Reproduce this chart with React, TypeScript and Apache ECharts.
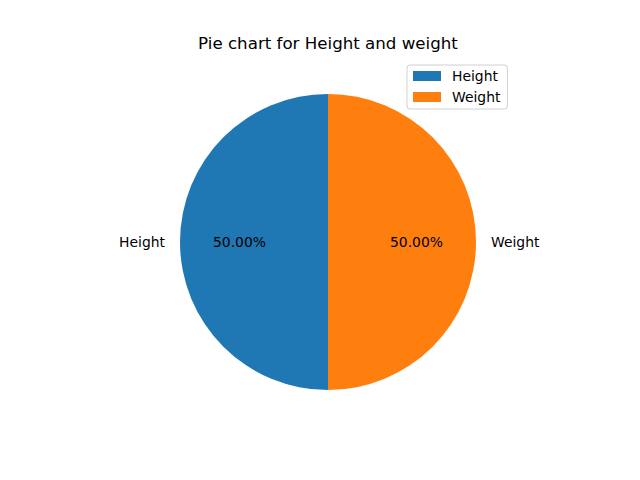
import React, { useEffect, useRef } from "react";
import * as echarts from "echarts";

const categories = ["Height", "Weight"];
const values = [50, 50];
const colors = ["#1f77b4", "#ff7f0e"];
const titleText = "Pie chart for Height and weight";

const FONT = "'DejaVu Sans', sans-serif";

export default function App() {
  const ref = useRef<HTMLDivElement>(null);
  useEffect(() => {
    if (!ref.current) return;
    const chart = echarts.init(ref.current, undefined, { renderer: "svg" });
    const data = categories.map((c, i) => ({
      name: c,
      value: values[i],
      itemStyle: { color: colors[i] },
    }));
    chart.setOption({
      animation: false,
      backgroundColor: "#ffffff",
      title: {
        text: titleText,
        left: 328,
        top: 35,
        textAlign: "center",
        padding: 0,
        textStyle: {
          fontFamily: FONT,
          fontSize: 16.67,
          fontWeight: "normal",
          color: "#000000",
          lineHeight: 17,
        },
      },
      legend: {
        orient: "vertical",
        left: 407,
        top: 65,
        padding: [4, 7, 5, 6],
        itemGap: 7,
        itemWidth: 28,
        itemHeight: 10,
        icon: "rect",
        borderColor: "#d0d0d0",
        borderWidth: 1,
        borderRadius: 3,
        backgroundColor: "rgba(255,255,255,0.8)",
        data: categories.map((c, i) => ({ name: c, itemStyle: { color: colors[i] } })),
        textStyle: {
          fontFamily: FONT,
          fontSize: 13.9,
          color: "#000000",
          lineHeight: 14,
          padding: [0, 0, 0, 6],
        },
      },
      series: [
        {
          type: "pie",
          center: [328, 242],
          radius: 148,
          startAngle: 90,
          clockwise: false,
          avoidLabelOverlap: false,
          silent: true,
          data,
          label: {
            show: true,
            position: "outside",
            formatter: "{b}",
            fontFamily: FONT,
            fontSize: 13.9,
            color: "#000000",
            distanceToLabelLine: 5,
          },
          labelLine: { show: false, length: 10, length2: 0 },
          emphasis: { disabled: true },
        },
        {
          type: "pie",
          center: [328, 242],
          radius: 171,
          startAngle: 90,
          clockwise: false,
          avoidLabelOverlap: false,
          silent: true,
          z: 5,
          data: categories.map((c, i) => ({
            name: c,
            value: values[i],
            itemStyle: { color: "rgba(0,0,0,0)" },
          })),
          label: {
            show: true,
            position: "inside",
            formatter: (p: any) => p.percent.toFixed(2) + "%",
            fontFamily: FONT,
            fontSize: 13.9,
            color: "#000000",
          },
          labelLine: { show: false },
          emphasis: { disabled: true },
        },
      ],
    });
    return () => chart.dispose();
  }, []);
  return (
    <div
      ref={ref}
      style={{ position: "absolute", left: 0, top: 0, width: 640, height: 480 }}
    />
  );
}
